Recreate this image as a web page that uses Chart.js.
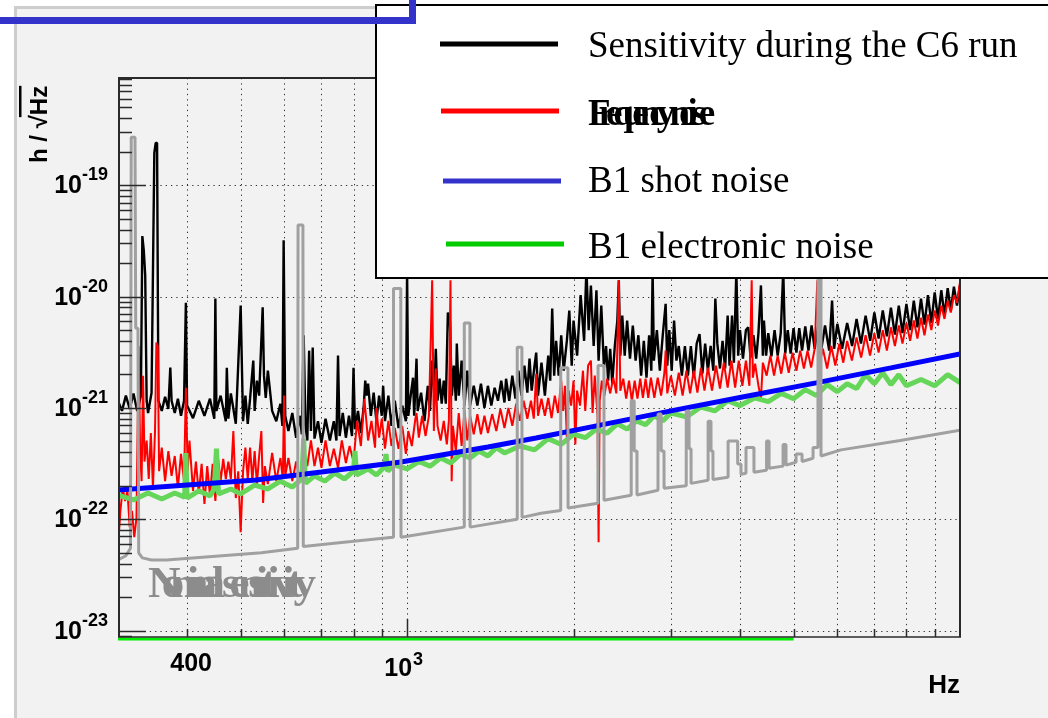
<!DOCTYPE html>
<html><head><meta charset="utf-8">
<script src="https://cdn.jsdelivr.net/npm/chart.js@4.4.0/dist/chart.umd.min.js"></script>
<style>html,body{margin:0;padding:0;background:#fff;}canvas{display:block;}</style>
</head><body>
<canvas id="c" width="1048" height="718"></canvas>
<script>
// [frequency Hz, h / sqrt(Hz)]
const sensitivityC6 = [[300,1.16e-21],[305,9.4e-22],[310,1.29e-21],[315,9.8e-22],[320,1.35e-21],[325,9.4e-22],[330,1.29e-21],[332,3.5e-20],[334,2.6e-20],[336,1.55e-20],[338,1.16e-21],[340,9.0e-22],[345,1.37e-21],[349,1.95e-19],[351,2.4e-19],[353,2.4e-19],[355,1.16e-21],[360,9.4e-22],[365,1.26e-21],[370,9.8e-22],[373,2.3e-21],[375,1.16e-21],[380,9.0e-22],[385,1.21e-21],[390,8.5e-22],[395,1.16e-21],[398,8.8e-21],[400,1.05e-21],[410,8.1e-22],[420,1.16e-21],[430,8.5e-22],[440,1.21e-21],[448,8.0e-22],[450,9.6e-21],[452,9.4e-22],[460,1.29e-21],[470,7.6e-22],[472,2.3e-21],[475,8.0e-22],[480,1.35e-21],[490,7.2e-22],[500,8.3e-21],[505,7.6e-22],[510,1.29e-21],[515,7.2e-22],[520,1.21e-21],[527,2.66e-21],[530,9.4e-22],[535,1.76e-21],[540,1.29e-21],[548,8.0e-21],[551,1.95e-21],[555,1.23e-21],[560,2.16e-21],[570,9.4e-22],[580,7.6e-22],[590,1.09e-21],[595,6.9e-22],[598,3.2e-20],[602,8.5e-22],[610,6.2e-22],[620,9.0e-22],[630,5.4e-22],[640,8.5e-22],[645,5.8e-22],[650,4.5e-21],[655,6.9e-22],[660,5.1e-22],[665,3.27e-21],[670,6.2e-22],[675,3.48e-21],[680,5.3e-22],[690,7.6e-22],[700,4.85e-22],[712,8.0e-22],[725,5.1e-22],[737,7.6e-22],[745,5.1e-22],[750,2.95e-21],[755,5.6e-22],[765,9.0e-22],[775,5.4e-22],[785,8.5e-22],[795,5.6e-22],[800,2.3e-21],[805,6.45e-22],[815,9.4e-22],[825,5.95e-22],[835,1.05e-21],[840,1.76e-21],[845,1.29e-21],[850,1.65e-21],[860,8.5e-22],[870,1.37e-21],[880,7.6e-22],[890,1.29e-21],[900,8.5e-22],[905,1.58e-21],[912,7.6e-22],[925,1.29e-21],[937,6.9e-22],[950,1.16e-21],[965,6.6e-22],[980,1.05e-21],[995,7.6e-22],[1000,1.72e-20],[1005,8.5e-22],[1015,1.29e-21],[1025,1.87e-21],[1030,8.5e-22],[1040,2.77e-21],[1045,9.4e-22],[1060,1.37e-21],[1075,7.6e-22],[1090,1.58e-21],[1100,9.4e-22],[1110,2.66e-21],[1120,1.29e-21],[1127,3.4e-21],[1135,1.16e-21],[1145,1.83e-21],[1155,1.09e-21],[1165,1.76e-21],[1175,1.09e-21],[1185,7.2e-21],[1195,6.1e-21],[1205,1.29e-21],[1215,2.4e-21],[1225,1.16e-21],[1230,3.78e-21],[1240,1.29e-21],[1255,2.66e-21],[1270,1.05e-21],[1285,2.16e-21],[1300,1.05e-21],[1320,1.58e-21],[1340,1.05e-21],[1360,1.65e-21],[1380,1.0e-21],[1400,1.58e-21],[1420,1.05e-21],[1440,1.52e-21],[1460,1.16e-21],[1480,1.76e-21],[1500,1.12e-21],[1510,1.83e-21],[1530,1.16e-21],[1550,1.95e-21],[1570,1.21e-21],[1590,2.16e-21],[1610,1.29e-21],[1630,2.4e-21],[1650,1.37e-21],[1665,2.77e-21],[1680,1.43e-21],[1700,2.4e-21],[1712,3.14e-21],[1725,1.29e-21],[1750,2.55e-21],[1775,1.29e-21],[1800,2.95e-21],[1815,1.76e-21],[1830,7.8e-21],[1845,1.95e-21],[1860,4.0e-21],[1880,1.95e-21],[1900,4.5e-21],[1920,2.16e-21],[1945,4.0e-21],[1965,7.5e-21],[1985,2.4e-21],[2000,6.1e-21],[2030,2.95e-21],[2060,1.03e-20],[2090,4.0e-21],[2110,1.8e-20],[2130,5.0e-21],[2150,1.26e-20],[2175,3.6e-21],[2200,1.14e-20],[2220,2.66e-21],[2245,8.3e-21],[2270,2.3e-21],[2290,3.6e-21],[2310,1.76e-21],[2330,3.4e-21],[2350,1.65e-21],[2375,3.6e-21],[2400,6.1e-21],[2415,1.4e-20],[2430,2.95e-21],[2450,6.75e-21],[2475,2.95e-21],[2500,6.1e-21],[2530,2.77e-21],[2560,5.5e-21],[2590,2.66e-21],[2620,4.5e-21],[2650,1.95e-21],[2680,4.0e-21],[2710,1.87e-21],[2740,4.5e-21],[2765,2.16e-21],[2780,1.72e-20],[2795,2.66e-21],[2830,5.0e-21],[2865,2.16e-21],[2900,4.5e-21],[2935,8.6e-21],[2955,2.4e-21],[2980,5.0e-21],[3010,2.16e-21],[3040,6.1e-21],[3070,2.66e-21],[3100,3.6e-21],[3140,1.95e-21],[3180,3.6e-21],[3220,1.95e-21],[3260,3.6e-21],[3300,1.87e-21],[3340,3.78e-21],[3380,4.6e-21],[3420,2.03e-21],[3460,3.78e-21],[3500,2.16e-21],[3540,3.6e-21],[3580,2.16e-21],[3610,9.6e-21],[3640,3.78e-21],[3680,2.26e-21],[3720,4.0e-21],[3760,2.26e-21],[3800,6.75e-21],[3830,2.4e-21],[3870,6.75e-21],[3900,2.55e-21],[3940,1.72e-20],[3970,2.95e-21],[4000,5.0e-21],[4050,2.77e-21],[4100,5.0e-21],[4140,5.3e-21],[4180,2.83e-21],[4230,4.5e-21],[4280,2.77e-21],[4320,4.7e-21],[4365,1.26e-20],[4400,2.95e-21],[4420,6.1e-21],[4460,2.95e-21],[4500,4.7e-21],[4560,2.9e-21],[4620,5.0e-21],[4680,2.95e-21],[4740,4.7e-21],[4790,1.72e-20],[4830,3.07e-21],[4880,5.0e-21],[4940,3.07e-21],[5000,5.2e-21],[5060,3.14e-21],[5120,5.2e-21],[5180,3.27e-21],[5250,5.4e-21],[5320,3.27e-21],[5390,5.5e-21],[5460,3.4e-21],[5535,5.3e-21],[5600,3.14e-21],[5700,5.5e-21],[5800,3.27e-21],[5870,9.2e-21],[5920,3.4e-21],[6000,5.7e-21],[6120,3.4e-21],[6250,5.8e-21],[6380,3.6e-21],[6500,6.3e-21],[6620,3.78e-21],[6750,6.75e-21],[6880,4.0e-21],[7000,7.2e-21],[7125,4.2e-21],[7250,7.5e-21],[7375,4.4e-21],[7500,7.95e-21],[7625,4.55e-21],[7750,8.3e-21],[7870,4.7e-21],[8000,8.6e-21],[8125,5.0e-21],[8250,9.2e-21],[8375,5.3e-21],[8500,9.6e-21],[8625,5.6e-21],[8750,1.03e-20],[8875,5.8e-21],[9000,1.09e-20],[9125,6.3e-21],[9250,1.14e-20],[9375,6.75e-21],[9500,1.19e-20],[9625,7.5e-21],[9750,1.23e-20],[9875,8.3e-21],[10000,1.26e-20]];

const frequencyNoise = [[300,5.5e-23],[303,1.19e-22],[306,1.91e-22],[309,1.46e-22],[312,1.8e-22],[315,8.5e-23],[318,1.19e-22],[321,6.9e-23],[324,1.03e-22],[327,3.6e-21],[329,4.1e-22],[331,2.2e-22],[333,1.95e-21],[335,3.3e-22],[338,5.1e-22],[341,2.3e-22],[344,5.95e-22],[347,1.91e-22],[350,6.2e-22],[352,3.86e-21],[354,3.6e-21],[356,2.7e-22],[360,4.4e-22],[365,2.2e-22],[370,4.1e-22],[375,2.45e-22],[380,3.7e-22],[385,1.91e-22],[390,3.86e-22],[395,2.2e-22],[398,1.52e-21],[401,2.7e-22],[404,5.1e-22],[410,1.8e-22],[415,3.3e-22],[420,1.69e-22],[425,3.14e-22],[430,1.37e-22],[435,3.0e-22],[440,1.62e-22],[445,3.14e-22],[450,1.46e-22],[455,3.55e-22],[460,2.2e-22],[465,3.48e-22],[470,2.3e-22],[475,3.3e-22],[480,2.3e-22],[485,6.2e-22],[490,1.55e-22],[495,2.7e-22],[500,7.65e-23],[505,2.7e-22],[510,4.4e-22],[515,2.3e-22],[520,4.4e-22],[525,2.2e-22],[530,4.1e-22],[535,2.07e-22],[540,3.7e-22],[545,6.2e-22],[549,1.4e-22],[553,3.0e-22],[560,2.07e-22],[570,3.94e-22],[580,2.2e-22],[590,3.55e-22],[596,2.3e-22],[599,1.29e-21],[602,2.45e-22],[610,3.55e-22],[620,2.2e-22],[630,3.3e-22],[640,2.3e-22],[650,4.1e-22],[660,3.0e-22],[670,5.1e-22],[680,3.0e-22],[690,4.4e-22],[700,2.9e-22],[712,5.1e-22],[725,3.0e-22],[737,4.3e-22],[750,2.9e-22],[762,5.1e-22],[775,3.2e-22],[787,4.55e-22],[800,3.3e-22],[812,7.65e-22],[825,4.55e-22],[837,1.21e-21],[850,5.1e-22],[862,7.65e-22],[875,4.4e-22],[880,1.0e-21],[890,5.4e-22],[900,8.0e-22],[912,4.3e-22],[925,7.65e-22],[937,4.55e-22],[950,6.6e-22],[965,4.3e-22],[980,6.9e-22],[995,3.86e-22],[1005,6.2e-22],[1020,4.55e-22],[1035,8.0e-22],[1040,9.0e-22],[1050,5.4e-22],[1065,8.5e-22],[1080,5.6e-22],[1095,8.5e-22],[1110,1.4e-20],[1118,6.2e-22],[1127,2.26e-21],[1135,6.9e-22],[1150,5.1e-22],[1165,7.65e-22],[1180,4.7e-22],[1190,7.65e-22],[1198,1.4e-20],[1204,2.2e-22],[1210,6.9e-22],[1225,4.1e-22],[1240,9.0e-22],[1255,4.55e-22],[1270,9.4e-22],[1285,5.1e-22],[1300,8.5e-22],[1320,5.8e-22],[1340,8.8e-22],[1360,5.8e-22],[1380,8.5e-22],[1400,5.95e-22],[1425,8.8e-22],[1450,6.2e-22],[1475,9.8e-22],[1500,6.6e-22],[1525,1.0e-21],[1550,6.9e-22],[1575,1.09e-21],[1600,7.65e-22],[1625,1.16e-21],[1650,8.0e-22],[1675,1.16e-21],[1695,8.0e-22],[1712,2.03e-21],[1725,8.5e-22],[1750,1.21e-21],[1775,8.5e-22],[1800,1.23e-21],[1825,8.1e-22],[1850,1.29e-21],[1875,9.0e-22],[1900,1.76e-21],[1915,9.4e-22],[1930,1.58e-21],[1945,5.4e-22],[1960,1.43e-21],[1980,1.05e-21],[2000,1.76e-21],[2015,4.7e-22],[2030,1.43e-21],[2055,1.05e-21],[2080,2.16e-21],[2100,9.4e-22],[2125,2.4e-21],[2150,2.66e-21],[2165,9.0e-22],[2185,1.95e-21],[2210,8.5e-22],[2220,6.2e-23],[2230,1.16e-21],[2250,1.76e-21],[2275,1.29e-21],[2300,1.83e-21],[2330,1.35e-21],[2360,1.87e-21],[2390,1.35e-21],[2415,1.4e-20],[2430,1.43e-21],[2460,1.83e-21],[2490,1.21e-21],[2520,1.76e-21],[2550,1.16e-21],[2580,1.76e-21],[2610,1.21e-21],[2640,1.83e-21],[2670,1.23e-21],[2700,1.83e-21],[2730,1.23e-21],[2760,1.87e-21],[2800,1.23e-21],[2840,1.87e-21],[2880,1.29e-21],[2920,2.07e-21],[2935,3.27e-21],[2955,1.35e-21],[3000,1.95e-21],[3050,1.29e-21],[3100,2.07e-21],[3150,1.29e-21],[3200,2.16e-21],[3250,1.35e-21],[3300,2.16e-21],[3350,1.37e-21],[3400,2.3e-21],[3450,1.43e-21],[3500,2.3e-21],[3560,1.43e-21],[3620,2.4e-21],[3680,1.49e-21],[3740,2.55e-21],[3800,1.52e-21],[3860,2.66e-21],[3920,1.52e-21],[3980,2.66e-21],[4040,1.58e-21],[4100,2.66e-21],[4160,1.58e-21],[4200,1.4e-20],[4220,1.87e-21],[4260,2.5e-21],[4320,1.58e-21],[4365,1.21e-21],[4400,2.55e-21],[4470,1.95e-21],[4540,2.95e-21],[4610,1.95e-21],[4680,2.95e-21],[4750,2.03e-21],[4820,3.14e-21],[4900,2.07e-21],[4980,3.14e-21],[5060,2.16e-21],[5140,3.27e-21],[5220,2.26e-21],[5300,3.27e-21],[5380,2.3e-21],[5460,3.4e-21],[5520,1.4e-20],[5560,2.4e-21],[5650,3.4e-21],[5750,2.26e-21],[5850,3.6e-21],[5950,2.4e-21],[6050,3.78e-21],[6150,2.55e-21],[6250,4.0e-21],[6375,2.66e-21],[6500,4.3e-21],[6625,2.83e-21],[6750,4.5e-21],[6875,2.95e-21],[7000,4.7e-21],[7125,3.14e-21],[7250,5.0e-21],[7375,3.27e-21],[7500,5.3e-21],[7625,3.6e-21],[7750,5.5e-21],[7870,3.78e-21],[8000,5.8e-21],[8125,4.0e-21],[8250,6.1e-21],[8375,4.2e-21],[8500,6.45e-21],[8625,4.5e-21],[8750,6.9e-21],[8875,5.0e-21],[9000,7.5e-21],[9125,5.5e-21],[9250,8.3e-21],[9375,6.3e-21],[9500,9.2e-21],[9625,7.2e-21],[9750,1.03e-20],[9875,8.8e-21],[10000,1.35e-20]];

const b1ShotNoise = [[300,1.83e-22],[400,2.03e-22],[533,2.25e-22],[700,2.66e-22],[975,3.27e-22],[1400,4.46e-22],[1711,5.37e-22],[2200,6.9e-22],[3064,9.6e-22],[4000,1.24e-21],[5490,1.68e-21],[7500,2.29e-21],[10000,3.06e-21]];

const b1ElectronicNoise = [[300,1.65e-22],[320,1.49e-22],[340,1.72e-22],[360,1.52e-22],[380,1.72e-22],[396,1.58e-22],[398,3.94e-22],[400,1.55e-22],[420,1.8e-22],[440,1.62e-22],[448,1.87e-22],[452,4.3e-22],[456,1.69e-22],[480,1.87e-22],[500,1.69e-22],[530,2.03e-22],[560,1.87e-22],[590,2.2e-22],[620,1.95e-22],[645,2.3e-22],[650,5.3e-22],[655,2.1e-22],[680,2.45e-22],[710,2.2e-22],[740,2.6e-22],[770,2.3e-22],[800,2.7e-22],[805,4.1e-22],[810,2.5e-22],[850,2.83e-22],[880,2.5e-22],[910,2.95e-22],[916,3.86e-22],[922,2.7e-22],[950,3.07e-22],[1000,2.83e-22],[1050,3.3e-22],[1100,3.0e-22],[1150,3.55e-22],[1200,3.2e-22],[1250,3.86e-22],[1300,3.55e-22],[1350,4.1e-22],[1400,3.7e-22],[1450,4.4e-22],[1500,3.94e-22],[1600,4.55e-22],[1700,4.2e-22],[1800,5.3e-22],[1900,4.7e-22],[2000,5.8e-22],[2100,5.4e-22],[2200,6.45e-22],[2300,5.95e-22],[2400,7.2e-22],[2500,6.45e-22],[2600,7.65e-22],[2700,7.05e-22],[2800,8.5e-22],[2900,7.65e-22],[3000,9.0e-22],[3200,8.3e-22],[3400,1.02e-21],[3600,9.4e-22],[3800,1.16e-21],[4000,1.05e-21],[4250,1.23e-21],[4500,1.14e-21],[4750,1.35e-21],[5000,1.21e-21],[5250,1.46e-21],[5500,1.29e-21],[5750,1.62e-21],[6000,1.4e-21],[6250,1.65e-21],[6500,1.49e-21],[6750,1.99e-21],[7000,1.65e-21],[7250,2.07e-21],[7500,1.62e-21],[7750,1.99e-21],[8000,1.58e-21],[8500,1.8e-21],[9000,1.58e-21],[9500,1.99e-21],[10000,1.69e-21]];

const nominalSensitivity = [[300,4.3e-23],[310,4.7e-23],[316,5.5e-23],[317,2.7e-19],[322,2.7e-19],[323,5.2e-21],[326,5.2e-21],[327,5.0e-23],[332,4.5e-23],[345,4.3e-23],[367,4.3e-23],[545,5.0e-23],[634,5.5e-23],[635,4.4e-20],[648,4.4e-20],[649,5.7e-23],[792,6.3e-23],[943,6.9e-23],[945,1.18e-20],[974,1.18e-20],[975,6.9e-23],[1268,8.5e-23],[1269,5.8e-21],[1299,5.8e-21],[1300,8.5e-23],[1581,1.0e-22],[1582,3.5e-21],[1613,3.5e-21],[1614,1.04e-22],[1747,1.13e-22],[1895,1.2e-22],[1896,2.3e-21],[1954,2.3e-21],[1955,1.26e-22],[2214,1.39e-22],[2215,2.4e-21],[2270,2.4e-21],[2271,1.48e-22],[2542,1.64e-22],[2543,1.16e-21],[2574,1.16e-21],[2575,4.1e-22],[2604,4.1e-22],[2605,1.65e-22],[2843,1.82e-22],[2844,8.8e-22],[2880,8.8e-22],[2881,4.1e-22],[2915,4.1e-22],[2916,1.9e-22],[3197,2.0e-22],[3198,9.4e-22],[3235,9.4e-22],[3236,4.3e-22],[3262,4.3e-22],[3263,2.1e-22],[3502,2.24e-22],[3503,7.6e-22],[3545,7.6e-22],[3546,4.1e-22],[3574,4.1e-22],[3575,2.28e-22],[3806,2.38e-22],[3807,5.05e-22],[3961,5.05e-22],[3962,3.14e-22],[4016,3.14e-22],[4017,2.54e-22],[4101,2.59e-22],[4102,4.4e-22],[4239,4.4e-22],[4240,2.64e-22],[4467,2.76e-22],[4468,5.05e-22],[4514,5.05e-22],[4515,2.87e-22],[4785,3.0e-22],[4786,4.7e-22],[4845,4.7e-22],[4846,3.06e-22],[5052,3.25e-22],[5053,3.86e-22],[5179,3.86e-22],[5180,3.3e-22],[5422,3.53e-22],[5423,4.4e-22],[5534,4.4e-22],[5535,1.64e-20],[5605,1.64e-20],[5606,3.7e-22],[6093,4.2e-22],[7800,5.1e-22],[10000,6.3e-22]];

const electronicNoiseFloorFreq = [300, 5000];

const xTickValues = [400,500,600,700,800,900,1000,2000,3000,4000,5000,6000,7000,8000,9000];
const xMajorTickValue = 1000;
const yDecadeValues = [1e-19,1e-20,1e-21,1e-22,1e-23];
const yDecadeExponents = ['-19','-20','-21','-22','-23'];
const legendLabels = ['Sensitivity during the C6 run','Frequency noise','B1 shot noise','B1 electronic noise'];
const nominalLabel = 'Nominal sensitivity';
const X_MIN = 300, X_MAX = 10000, Y_MIN = 8.4e-24, Y_MAX = 9.2e-19;

function pts(arr){ return arr.map(p => ({x:p[0], y:p[1]})); }

function drawCompressed(ctx, str, x0, y, k){
  for (let i = 0; i < str.length; i++){
    const off = ctx.measureText(str.slice(0, i)).width * k;
    ctx.fillText(str[i], x0 + off, y);
  }
}

const rootPlugin = {
  id: 'rootStyle',
  beforeDraw(chart){
    const ctx = chart.ctx;
    ctx.save();
    ctx.fillStyle = '#ffffff'; ctx.fillRect(0, 0, 1048, 718);
    ctx.fillStyle = '#f2f2f2'; ctx.fillRect(14, 6, 1034, 712);
    ctx.fillStyle = '#cdcdcd'; ctx.fillRect(14, 6, 3, 712); ctx.fillRect(14, 6, 1034, 3);
    ctx.restore();
  },
  beforeDatasetsDraw(chart){
    const {ctx, chartArea: a, scales: {x, y}} = chart;
    ctx.save();
    ctx.strokeStyle = '#333'; ctx.lineWidth = 1; ctx.setLineDash([1.3, 4]);
    for (const v of xTickValues){
      const px = Math.round(x.getPixelForValue(v)) + 0.5;
      ctx.beginPath(); ctx.moveTo(px, a.top); ctx.lineTo(px, a.bottom); ctx.stroke();
    }
    for (const v of yDecadeValues){
      const py = Math.round(y.getPixelForValue(v)) + 0.5;
      ctx.beginPath(); ctx.moveTo(a.left, py); ctx.lineTo(a.right, py); ctx.stroke();
    }
    ctx.restore();
  },
  afterDatasetsDraw(chart){
    const {ctx, chartArea: a, scales: {x, y}} = chart;
    ctx.save();
    ctx.strokeStyle = '#2a2a2a'; ctx.lineWidth = 2;
    ctx.beginPath();
    ctx.moveTo(a.left + 1, a.bottom - 2); ctx.lineTo(a.left + 1, a.top);
    ctx.lineTo(a.right, a.top); ctx.lineTo(a.right, a.bottom - 2);
    ctx.stroke();
    ctx.lineWidth = 1.5;
    ctx.beginPath(); ctx.moveTo(a.left, a.bottom - 2); ctx.lineTo(a.right + 1, a.bottom - 2); ctx.stroke();
    for (let e = -24; e <= -19; e++){
      for (let m = 1; m <= 9; m++){
        const v = m * Math.pow(10, e);
        if (v < Y_MIN || v > Y_MAX) continue;
        const py = Math.round(y.getPixelForValue(v)) + 0.5;
        const len = m === 1 ? 27 : 13;
        ctx.beginPath(); ctx.moveTo(a.left + 1, py); ctx.lineTo(a.left + 1 + len, py); ctx.stroke();
      }
    }
    for (const v of xTickValues){
      const px = Math.round(x.getPixelForValue(v)) + 0.5;
      const len = v === xMajorTickValue ? 18 : 8;
      ctx.beginPath(); ctx.moveTo(px, a.bottom - 2); ctx.lineTo(px, a.bottom - 2 - len); ctx.stroke();
    }
    ctx.restore();
  },
  afterDraw(chart){
    const {ctx, chartArea: a, scales: {x, y}} = chart;
    ctx.save();
    ctx.fillStyle = '#000';
    yDecadeValues.forEach((v, i) => {
      const py = y.getPixelForValue(v);
      ctx.font = 'bold 25px "Liberation Sans", Arial, sans-serif';
      ctx.textAlign = 'right'; ctx.textBaseline = 'alphabetic';
      ctx.fillText('10', 82, py + 8);
      ctx.font = 'bold 18px "Liberation Sans", Arial, sans-serif';
      ctx.textAlign = 'left';
      ctx.fillText(yDecadeExponents[i], 82, py - 5);
    });
    const p400 = x.getPixelForValue(400);
    ctx.font = 'bold 25px "Liberation Sans", Arial, sans-serif';
    ctx.textAlign = 'center';
    ctx.fillText('400', p400 + 4, 671);
    const p1000 = x.getPixelForValue(1000);
    ctx.textAlign = 'right';
    ctx.fillText('10', p1000 + 5, 676);
    ctx.font = 'bold 18px "Liberation Sans", Arial, sans-serif';
    ctx.textAlign = 'left';
    ctx.fillText('3', p1000 + 6, 665);
    ctx.font = 'bold 26px "Liberation Sans", Arial, sans-serif';
    ctx.textAlign = 'right';
    ctx.fillText('Hz', a.right, 693);
    ctx.save();
    ctx.translate(47, 163); ctx.rotate(-Math.PI / 2);
    ctx.font = 'bold 24px "Liberation Sans", Arial, sans-serif';
    ctx.textAlign = 'left';
    const t1 = 'h / ';
    ctx.fillText(t1, 0, 0);
    const w1 = ctx.measureText(t1).width;
    ctx.fillText('\u221A', w1, 0);
    const w2 = ctx.measureText('\u221A').width;
    ctx.fillText('Hz', w1 + w2, 0);
    const w3 = ctx.measureText('Hz').width;
    ctx.fillRect(w1 + w2 - 2, -28, w3 + 2, 2.5);
    ctx.restore();
    ctx.fillStyle = '#8c8c8c';
    ctx.font = 'bold 45px "Liberation Serif", "Times New Roman", serif';
    ctx.textAlign = 'left';
    drawCompressed(ctx, nominalLabel, 148, 597, 0.42);
    ctx.fillStyle = '#ffffff'; ctx.fillRect(375, 4, 700, 274);
    ctx.strokeStyle = '#000'; ctx.lineWidth = 2; ctx.strokeRect(376, 5, 700, 273);
    const legendColors = ['#000000', '#ff0000', '#3333cc', '#00cc00'];
    const lineY = [44, 111, 181, 244];
    const lineX = [440, 441, 443, 446];
    const textY = [57, 125, 192, 258];
    ctx.lineWidth = 5;
    for (let i = 0; i < 4; i++){
      ctx.strokeStyle = legendColors[i];
      ctx.beginPath(); ctx.moveTo(lineX[i], lineY[i]); ctx.lineTo(lineX[i] + 118, lineY[i]); ctx.stroke();
      ctx.fillStyle = '#000';
      if (i === 1){
        ctx.font = 'bold 37px "Liberation Serif", "Times New Roman", serif';
        drawCompressed(ctx, legendLabels[i], 588, textY[i], 0.46);
      } else {
        ctx.font = '37px "Liberation Serif", "Times New Roman", serif';
        ctx.fillText(legendLabels[i], 588, textY[i]);
      }
    }
    ctx.fillStyle = '#3333cc';
    ctx.fillRect(0, 17, 416, 7);
    ctx.fillRect(409, 0, 7, 24);
    ctx.restore();
  }
};

function ds(label, arr, color, width, order){
  return {label, data: pts(arr), borderColor: color, backgroundColor: color, borderWidth: width,
    pointRadius: 0, fill: false, tension: 0, order, borderJoinStyle: 'bevel'};
}

new Chart(document.getElementById('c'), {
  type: 'line',
  data: {datasets: [
    ds('Nominal sensitivity', nominalSensitivity, '#a0a0a0', 3, 0),
    ds('B1 shot noise', b1ShotNoise, '#0000ff', 5, 1),
    ds('B1 electronic noise', b1ElectronicNoise, '#66d65a', 5, 2),
    ds('Frequency noise', frequencyNoise, '#ff0000', 2, 3),
    ds('Sensitivity during the C6 run', sensitivityC6, '#000000', 2.4, 4),
    {label: 'B1 electronic noise (floor)', data: electronicNoiseFloorFreq.map(f => ({x: f, y: Y_MIN})),
     borderColor: '#00ee00', borderWidth: 3, pointRadius: 0, fill: false, clip: false, order: 5}
  ]},
  options: {
    responsive: false, animation: false, devicePixelRatio: 1, events: [],
    layout: {padding: {left: 118, right: 88, top: 78, bottom: 79}},
    scales: {
      x: {type: 'logarithmic', min: X_MIN, max: X_MAX, bounds: 'data', display: false},
      y: {type: 'logarithmic', min: Y_MIN, max: Y_MAX, bounds: 'data', display: false}
    },
    plugins: {legend: {display: false}, tooltip: {enabled: false}}
  },
  plugins: [rootPlugin]
});
</script>
</body></html>
